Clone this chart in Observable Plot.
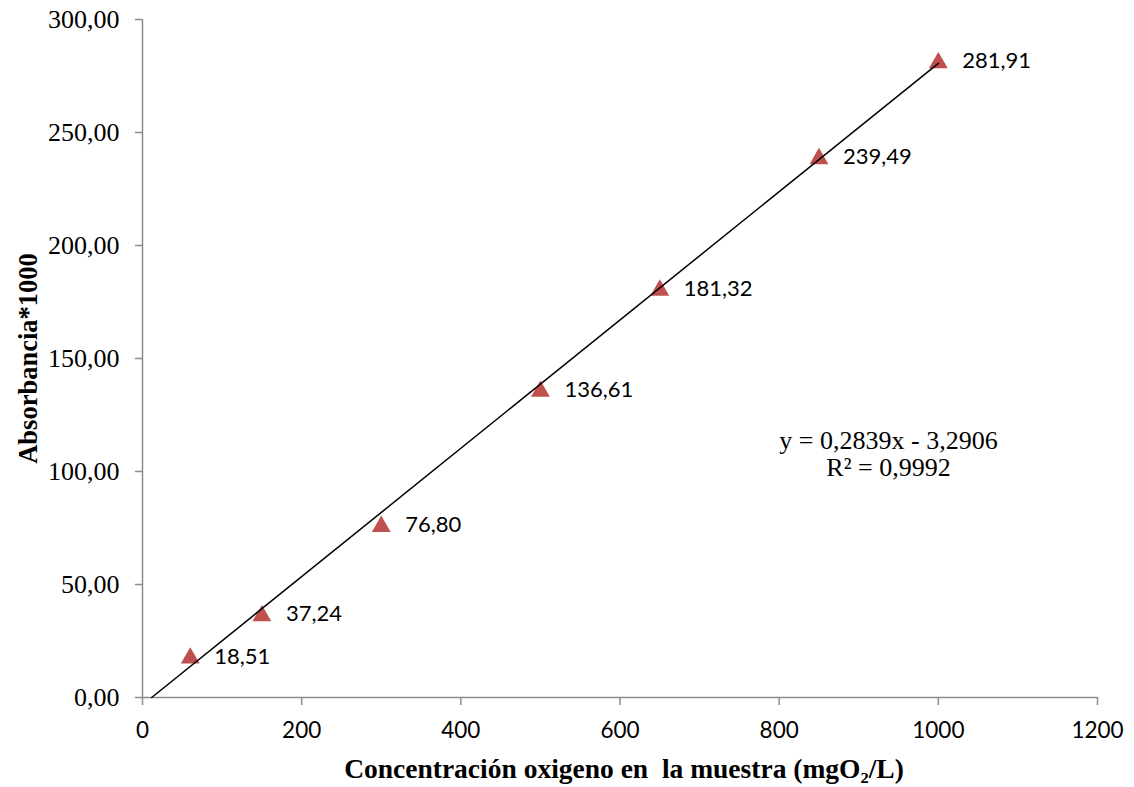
<!DOCTYPE html>
<html><head><meta charset="utf-8">
<script src="https://cdn.jsdelivr.net/npm/d3@7"></script>
<script src="https://cdn.jsdelivr.net/npm/@observablehq/plot@0.6"></script>
<style>body{margin:0;background:#fff}</style>
</head><body><div id="chart"></div>
<script>
const concentrations = [60, 150, 300, 500, 650, 850, 1000];
const absorbance = [18.51, 37.24, 76.80, 136.61, 181.32, 239.49, 281.91];
const xTicks = [0, 200, 400, 600, 800, 1000, 1200];
const yTicks = [0, 50, 100, 150, 200, 250, 300];
const slope = 0.2839, intercept = -3.2906, r2 = 0.9992;
const xTitle = "Concentración oxigeno en  la muestra (mgO₂/L)";
const yTitle = "Absorbancia*1000";

const comma = (v, d) => v.toFixed(d).replace(".", ",");
const points = concentrations.map((x, i) => ({x, y: absorbance[i], label: comma(absorbance[i], 2)}));
const xStart = -intercept / slope;
const trend = [xStart, d3.max(concentrations)].map(x => ({x, y: slope * x + intercept}));
const eqText = `y = ${comma(slope, 4)}x - ${comma(-intercept, 4)}\nR² = ${comma(r2, 4)}`;

const serif = "Liberation Serif, Times New Roman, serif";
const sans = "Lato, sans-serif";
const axisGray = "#8c8c8c";

const chart = Plot.plot({
  width: 1134, height: 787,
  marginLeft: 142, marginRight: 37, marginTop: 19, marginBottom: 90,
  x: {domain: [0, 1200]},
  y: {domain: [0, 300]},
  style: {background: "#fff", overflow: "visible"},
  marks: [
    Plot.axisX({ticks: xTicks, tickSize: 8, tickPadding: 17, stroke: axisGray, strokeWidth: 1.5,
      fill: "black", fontFamily: sans, fontSize: 22.5, label: null, tickFormat: d => String(d)}),
    Plot.axisY({ticks: yTicks, tickSize: 7, tickPadding: 16, stroke: axisGray, strokeWidth: 1.5,
      fill: "black", fontFamily: serif, fontSize: 26, label: null, tickFormat: d => comma(d, 2)}),
    Plot.ruleX([0], {stroke: axisGray, strokeWidth: 1.5}),
    Plot.ruleY([0], {stroke: axisGray, strokeWidth: 1.5}),
    Plot.dot(points, {x: "x", y: "y", symbol: "triangle", r: 7, dy: 2.5, fill: "#C0504D", stroke: "none"}),
    Plot.line(trend, {x: "x", y: "y", stroke: "black", strokeWidth: 1.5}),
    Plot.text(points, {x: "x", y: "y", text: "label", textAnchor: "start", dx: 24, dy: 1,
      fontFamily: sans, fontSize: 22, fill: "black"}),
    Plot.text([eqText], {frameAnchor: "right", dx: -209, dy: 95, textAnchor: "middle",
      lineHeight: 1.04, fontFamily: serif, fontSize: 26, fill: "black"}),
    Plot.text([xTitle], {frameAnchor: "bottom", dy: 80, dx: 4, textAnchor: "middle", fontFamily: serif, fontWeight: "bold",
      fontSize: 27.5, fill: "black"}),
    Plot.text([yTitle], {frameAnchor: "left", dx: -114, rotate: -90, textAnchor: "middle", fontFamily: serif, fontWeight: "bold",
      fontSize: 26.5, fill: "black"})
  ]
});
document.getElementById("chart").appendChild(chart);
</script>
</body></html>
